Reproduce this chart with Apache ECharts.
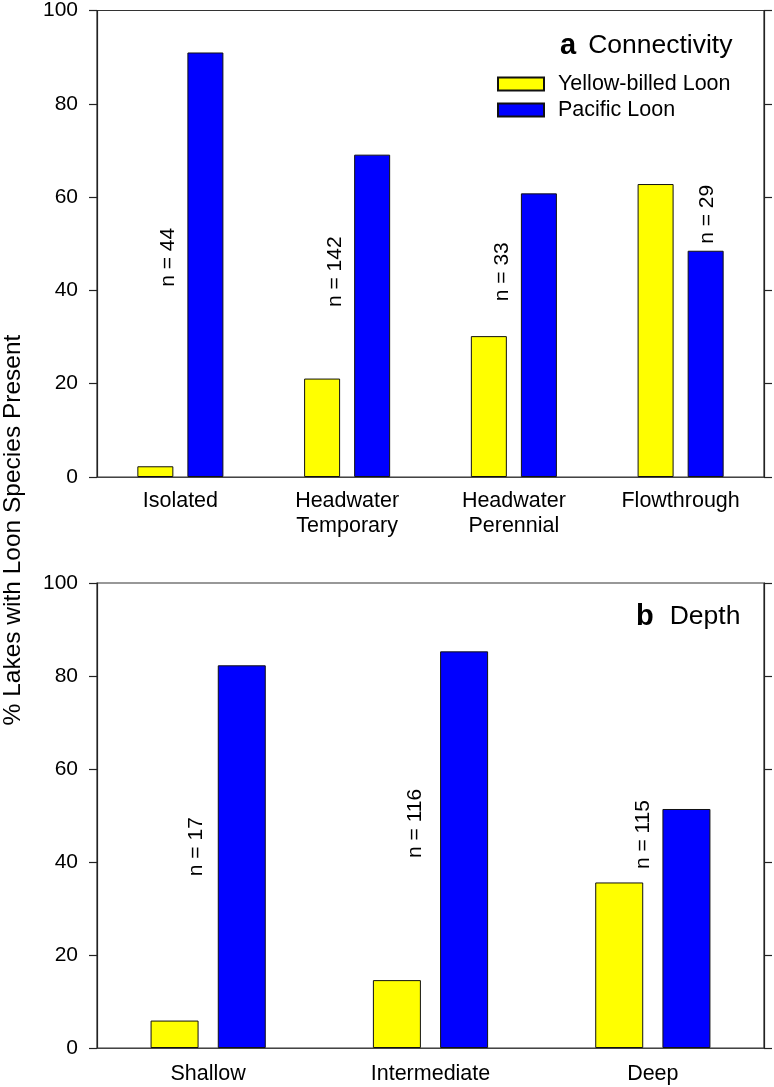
<!DOCTYPE html>
<html>
<head>
<meta charset="utf-8">
<script src="https://cdn.jsdelivr.net/npm/echarts@6/dist/echarts.min.js"></script>
<style>html,body{margin:0;padding:0;background:#fff;}#c{width:774px;height:1087px;}</style>
</head>
<body>
<div id="c"></div>
<script>
// ---- data ----
var connCategories = ['Isolated', 'Headwater\nTemporary', 'Headwater\nPerennial', 'Flowthrough'];
var connYellow = [2.3, 21.1, 30.2, 62.8];
var connPacific = [91.0, 69.1, 60.8, 48.5];
var connN = ['n = 44', 'n = 142', 'n = 33', 'n = 29'];
var connNy = [47.1, 44.0, 44.0, 56.3];

var depthCategories = ['Shallow', 'Intermediate', 'Deep'];
var depthYellow = [5.9, 14.6, 35.6];
var depthPacific = [82.3, 85.3, 51.4];
var depthN = ['n = 17', 'n = 116', 'n = 115'];
var depthNy = [43.3, 48.3, 45.9];

var yTicks = [0, 20, 40, 60, 80, 100];
var seriesNames = ['Yellow-billed Loon', 'Pacific Loon'];

// ---- style ----
var FONT = 'Liberation Sans, Arial, sans-serif';
var connLabelDx = [-12, -11.5, -12, 26.5];
var depthLabelDx = [-12, -15.5, -10];
var YEL = '#ffff00', BLU = '#0000ff';

function nLabelSeries(gridIdx, cats, texts, ys, dxs) {
  return {
    type: 'custom',
    xAxisIndex: gridIdx, yAxisIndex: gridIdx * 2,
    silent: true, z: 10,
    data: cats.map(function (c, i) { return [i, ys[i], i]; }),
    renderItem: function (params, api) {
      var i = api.value(2);
      var p = api.coord([api.value(0), api.value(1)]);
      return {
        type: 'text',
        x: p[0] + dxs[i], y: p[1],
        rotation: Math.PI / 2,
        style: { text: texts[i], fontSize: 21, fontFamily: FONT, fill: '#000', align: 'center', verticalAlign: 'middle' }
      };
    }
  };
}

function xAx(gridIdx, cats, margin) {
  return {
    type: 'category', gridIndex: gridIdx, data: cats,
    axisLine: { lineStyle: { color: '#444', width: 1.2 } },
    axisTick: { alignWithLabel: true, length: 8, lineStyle: { color: '#222', width: 1.2 } },
    axisLabel: { fontSize: 21.5, fontFamily: FONT, color: '#000', margin: margin, lineHeight: 25 },
    splitLine: { show: false }
  };
}
function yAx(gridIdx, pos) {
  return {
    type: 'value', gridIndex: gridIdx, position: pos,
    min: yTicks[0], max: yTicks[yTicks.length - 1], interval: yTicks[1] - yTicks[0],
    axisLine: { show: true, lineStyle: { color: '#222', width: 1.2 } },
    axisTick: { show: true, length: 8, lineStyle: { color: '#222', width: 1.2 } },
    axisLabel: { show: pos === 'left', fontSize: 21, fontFamily: FONT, color: '#000', margin: 19 },
    splitLine: { show: false }
  };
}
function bar(gridIdx, name, vals, color, width, gap) {
  return {
    type: 'bar', name: name, xAxisIndex: gridIdx, yAxisIndex: gridIdx * 2,
    data: vals, barWidth: width, barGap: gap,
    itemStyle: { color: color, borderColor: '#111', borderWidth: 1 },
    emphasis: { disabled: true }
  };
}

var chart = echarts.init(document.getElementById('c'));
chart.setOption({
  animation: false,
  backgroundColor: '#fff',
  grid: [
    { left: 97, top: 10, width: 667, height: 467, show: true, borderColor: '#333', borderWidth: 1.2, backgroundColor: 'transparent' },
    { left: 97, top: 583, width: 667, height: 467, show: true, borderColor: '#333', borderWidth: 1.2, backgroundColor: 'transparent' }
  ],
  xAxis: [xAx(0, connCategories, 12), xAx(1, depthCategories, 14)],
  yAxis: [yAx(0, 'left'), yAx(0, 'right'), yAx(1, 'left'), yAx(1, 'right')],
  legend: {
    data: seriesNames, orient: 'vertical', left: 492, top: 68,
    itemWidth: 46, itemHeight: 13, itemGap: 4, icon: 'rect',
    textStyle: { fontSize: 21.5, fontFamily: FONT, color: '#000', lineHeight: 22, padding: [0, 0, 0, 9] },
    selectedMode: false
  },
  title: [
    { text: '{a|a}{c|Connectivity}', left: 555, top: 24,
      textStyle: { fontWeight: 'normal',
                   rich: { a: { fontSize: 29, fontWeight: 'bold', fontFamily: FONT, color: '#000', lineHeight: 34, padding: [0, 12, 0, 0] },
                           c: { fontSize: 26.5, fontWeight: 'normal', fontFamily: FONT, color: '#000', lineHeight: 34 } } } },
    { text: '{a|b}{c|Depth}', left: 631, top: 595,
      textStyle: { fontWeight: 'normal',
                   rich: { a: { fontSize: 29, fontWeight: 'bold', fontFamily: FONT, color: '#000', lineHeight: 34, padding: [0, 16, 0, 0] },
                           c: { fontSize: 26.5, fontWeight: 'normal', fontFamily: FONT, color: '#000', lineHeight: 34 } } } }
  ],
  graphic: [
    { type: 'text', x: 13, y: 530, rotation: Math.PI / 2,
      style: { text: '% Lakes with Loon Species Present', fontSize: 24.5, fontFamily: FONT, fill: '#000', align: 'center', verticalAlign: 'middle' } }
  ],
  series: [
    bar(0, seriesNames[0], connYellow, YEL, 36, '39%'),
    bar(0, seriesNames[1], connPacific, BLU, 36, '39%'),
    bar(1, seriesNames[0], depthYellow, YEL, 48, '40%'),
    bar(1, seriesNames[1], depthPacific, BLU, 48, '40%'),
    nLabelSeries(0, connCategories, connN, connNy, connLabelDx),
    nLabelSeries(1, depthCategories, depthN, depthNy, depthLabelDx)
  ]
});
</script>
</body>
</html>
